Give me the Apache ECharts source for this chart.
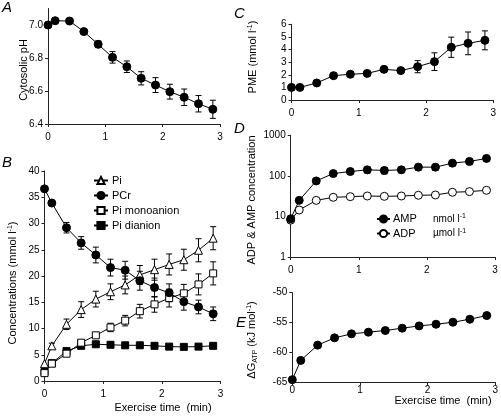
<!DOCTYPE html>
<html><head><meta charset="utf-8">
<script src="https://cdn.jsdelivr.net/npm/echarts@6/dist/echarts.min.js"></script>
<style>html,body{margin:0;padding:0;background:#fff}#c{width:501px;height:417px}</style>
</head><body><div id="c"></div>
<script>
// ---------- data ----------
const times = [0,0.125,0.375,0.625,0.875,1.125,1.375,1.625,1.875,2.125,2.375,2.625,2.875];
const xTicks = [0,1,2,3];
const phTicks = [6.4,6.6,6.8,7.0];
const logTicks = [1,10,100,1000];
const phVals = [7.00,7.026,7.024,6.96,6.883,6.804,6.747,6.677,6.636,6.596,6.562,6.523,6.489];
const phErr  = [0,0,0,0,0.02,0.035,0.035,0.04,0.045,0.045,0.05,0.05,0.055];
const pcrVals = [36.6,33.9,29.2,26.3,24.0,21.6,21.1,19.1,17.8,16.8,15.1,14.1,12.8];
const pcrErr  = [0,0,1.0,1.2,1.5,1.6,1.7,1.8,1.8,1.7,1.6,1.3,1.3];
const piVals  = [3.3,6.7,10.8,13.6,15.6,17.0,18.3,20.2,21.2,22.2,23.1,24.9,27.2];
const piErr   = [0,0.5,1.0,1.5,1.5,1.5,1.7,1.8,2.0,2.0,2.0,2.2,2.2];
const monoVals = [1.5,3.3,5.2,7.3,8.7,10.2,11.5,13.3,14.6,15.8,16.7,18.4,20.5];
const monoErr  = [0,0,0,0,0.5,0.8,1.0,1.3,1.5,1.7,1.7,2.0,2.2];
const dianVals = [1.7,3.4,5.7,6.7,7.0,6.9,6.8,6.8,6.7,6.55,6.5,6.55,6.7];
const pmeVals = [1.0,1.0,1.35,1.93,2.04,2.11,2.43,2.33,2.64,3.04,4.18,4.49,4.73];
const pmeErr  = [0,0,0,0,0,0,0,0,0.48,0.7,0.8,0.9,0.75];
const ampVals = [8.75,24.9,75,114,128,141,136,141,164,164,206,227,269];
const ampErrFrac = [0,0,0.12,0.15,0.15,0.17,0.18,0.15,0.17,0.17,0.15,0.15,0.1];
const adpVals = [8.1,14.4,24.9,29.6,30.7,31.9,31.3,31.9,33.2,33.8,39.4,40.9,44.1];
const dgVals = [-64.56,-61.33,-58.78,-57.56,-56.89,-56.61,-56.33,-55.94,-55.56,-55.28,-54.94,-54.44,-53.83];

// ---------- helpers ----------
const FF = '"Liberation Sans", Arial, Helvetica, sans-serif';
const pairs = v => times.map((t,i)=>[t, v[i]]);
const errs = (v,e) => times.map((t,i)=>[t, v[i]-e[i], v[i]+e[i]]).filter((d,i)=>e[i]>0);
const errsFrac = (v,f) => times.map((t,i)=>[t, v[i]*(1-f[i]), v[i]*(1+f[i])]).filter((d,i)=>f[i]>0);

function errRender(params, api){
  const x = api.value(0), lo = api.value(1), hi = api.value(2);
  const p1 = api.coord([x, lo]), p2 = api.coord([x, hi]);
  const w = 3;
  const st = {stroke:'#000', lineWidth:1};
  return {type:'group', children:[
    {type:'line', shape:{x1:p1[0],y1:p1[1],x2:p2[0],y2:p2[1]}, style:st},
    {type:'line', shape:{x1:p1[0]-w,y1:p1[1],x2:p1[0]+w,y2:p1[1]}, style:st},
    {type:'line', shape:{x1:p2[0]-w,y1:p2[1],x2:p2[0]+w,y2:p2[1]}, style:st}
  ]};
}
function errSeries(gi, data){
  return {type:'custom', xAxisIndex:gi, yAxisIndex:gi, renderItem:errRender, data:data,
    encode:{x:0, y:[1,2]}, z:1, clip:false, silent:true};
}
function lineSeries(gi, name, data, symbol, fill, size){
  return {type:'line', name:name, xAxisIndex:gi, yAxisIndex:gi, data:data, symbol:symbol,
    symbolSize:size||8, showSymbol:true, z:3, clip:false, silent:true, animation:false,
    lineStyle:{color:'#000', width:1},
    itemStyle:{color:fill, borderColor:'#000', borderWidth:1, opacity:1}};
}
const axLine = {show:true, onZero:false, lineStyle:{color:'#222', width:1}};
const lbl = {fontSize:10, color:'#000', fontFamily:FF};
function xAx(gi, m){
  return {type:'value', gridIndex:gi, min:0, max:3, interval:1, axisLine:axLine,
    axisTick:{show:true, length:3, lineStyle:{color:'#222'}},
    axisLabel:Object.assign({margin:(m==null?8:m)}, lbl), splitLine:{show:false}};
}
function yAx(gi, o){
  return Object.assign({type:'value', gridIndex:gi, axisLine:axLine,
    axisTick:{show:true, length:3, lineStyle:{color:'#222'}},
    axisLabel:Object.assign({margin:5}, lbl), splitLine:{show:false}}, o);
}
function vtext(x, y, rich, text){
  return {type:'text', x:x, y:y, rotation:Math.PI/2,
    style:{text:text, align:'center', verticalAlign:'middle', fill:'#000', font:'11px '+FF, rich:rich}};
}
function letter(ch, x, y){
  return {type:'text', x:x, y:y, style:{text:ch, fill:'#000', font:'italic 15px '+FF}};
}
const richBase = {
  n:{fontSize:11, fontFamily:FF, fill:'#000'},
  sup:{fontSize:7, fontFamily:FF, fill:'#000', verticalAlign:'top', padding:[0,0,6,0]},
  sub:{fontSize:7, fontFamily:FF, fill:'#000', padding:[6,0,0,0]}
};

const chart = echarts.init(document.getElementById('c'), null, {renderer:'canvas'});
chart.setOption({
  animation:false,
  backgroundColor:'#fff',
  grid:[
    {left:48, top:8.5, width:172, height:115.5},
    {left:44.5, top:171, width:176, height:210},
    {left:291.5, top:24.3, width:201.8, height:75.7},
    {left:290.7, top:135.3, width:204.3, height:121.7},
    {left:292.3, top:292.7, width:203.4, height:89.6}
  ],
  xAxis:[xAx(0), xAx(1), xAx(2), xAx(3), xAx(4, 3)],
  yAxis:[
    yAx(0, {min:6.4, max:7.1, axisLabel:Object.assign({margin:5, customValues:phTicks, formatter:v=>v.toFixed(1)}, lbl),
            axisTick:{show:true, length:3, customValues:phTicks, lineStyle:{color:'#222'}}}),
    yAx(1, {min:0, max:40, interval:5}),
    yAx(2, {min:0, max:6, interval:1}),
    yAx(3, {type:'log', logBase:10, min:1, max:1000,
            axisLabel:Object.assign({margin:5, show:true, customValues:logTicks, formatter:v=>String(Math.round(v))}, lbl),
            axisTick:{show:true, length:3, customValues:logTicks, lineStyle:{color:'#222'}}}),
    yAx(4, {min:-65, max:-50, interval:5})
  ],
  legend:[
    {data:['Pi','PCr','Pi monoanion','Pi dianion'], orient:'vertical', left:93, top:175, padding:0,
     itemWidth:14, itemHeight:9, itemGap:4, selectedMode:false,
     textStyle:{fontSize:11, fontFamily:FF, color:'#000', padding:[0,0,0,-1]}},
    {data:['AMP','ADP'], orient:'vertical', left:376, top:213, padding:0,
     itemWidth:13, itemHeight:9, itemGap:3, selectedMode:false,
     formatter: n => '{nm|'+n+'}{u|'+(n==='AMP'?'nmol l':'\u00b5mol l')+'}{s|-1}',
     textStyle:{fontSize:11, fontFamily:FF, color:'#000', padding:[0,0,0,-2],
       rich:{nm:{width:40, fontSize:11, fontFamily:FF, color:'#000'},
             u:{fontSize:10, fontFamily:FF, color:'#000'},
             s:{fontSize:7, fontFamily:FF, color:'#000', verticalAlign:'top', padding:[0,0,5,0]}}}}
  ],
  graphic:[
    letter('A', 2, 0), letter('B', 2, 155), letter('C', 234, 6), letter('D', 234, 121), letter('E', 236, 315),
    vtext(24, 70, richBase, '{n|Cytosolic pH}'),
    vtext(13, 283, richBase, '{n|Concentrations (mmol l}{sup|-1}{n|)}'),
    vtext(253, 57, richBase, '{n|PME (mmol l}{sup|-1}{n|)}'),
    vtext(252, 200, richBase, '{n|ADP & AMP concentration}'),
    vtext(252, 340, richBase, '{n|\u0394G}{sub|ATP}{n| (kJ mol}{sup|-1}{n|)}'),
    {type:'text', x:163, y:408, style:{text:'Exercise time  (min)', align:'center', verticalAlign:'middle', fill:'#000', font:'11px '+FF}},
    {type:'text', x:443, y:401, style:{text:'Exercise time  (min)', align:'center', verticalAlign:'middle', fill:'#000', font:'11px '+FF}}
  ],
  series:[
    errSeries(0, errs(phVals, phErr)),
    lineSeries(0, 'pH', pairs(phVals), 'circle', '#000', 8),

    errSeries(1, errs(pcrVals, pcrErr)),
    errSeries(1, errs(piVals, piErr)),
    errSeries(1, errs(monoVals, monoErr)),
    lineSeries(1, 'Pi dianion', pairs(dianVals), 'rect', '#000', 7),
    lineSeries(1, 'Pi monoanion', pairs(monoVals), 'rect', '#fff', 7),
    lineSeries(1, 'Pi', pairs(piVals), 'triangle', '#fff', 8),
    lineSeries(1, 'PCr', pairs(pcrVals), 'circle', '#000', 8),

    errSeries(2, errs(pmeVals, pmeErr)),
    lineSeries(2, 'PME', pairs(pmeVals), 'circle', '#000', 8),

    errSeries(3, errsFrac(ampVals, ampErrFrac)),
    lineSeries(3, 'ADP', pairs(adpVals), 'circle', '#fff', 8),
    lineSeries(3, 'AMP', pairs(ampVals), 'circle', '#000', 8),

    lineSeries(4, 'dG', pairs(dgVals), 'circle', '#000', 8)
  ]
});
</script></body></html>
